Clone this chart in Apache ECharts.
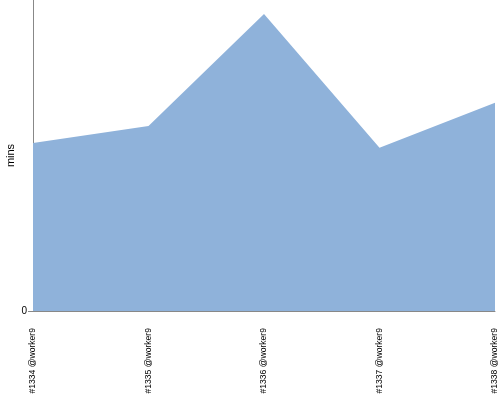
<!DOCTYPE html>
<html><head><meta charset="utf-8">
<script src="https://cdn.jsdelivr.net/npm/echarts@6/dist/echarts.min.js"></script>
<style>html,body{margin:0;padding:0;background:#fff}#c{width:500px;height:400px}</style>
</head><body><div id="c"></div>
<script>
const categories = ['#1334 @worker9', '#1335 @worker9', '#1336 @worker9', '#1337 @worker9', '#1338 @worker9'];
const minsValues = [10.8, 11.9, 19.1, 10.5, 13.4];
const yAxisName = 'mins';
const yTickValues = [0];

const chart = echarts.init(document.getElementById('c'), null, {renderer: 'canvas'});
chart.setOption({
  animation: false,
  grid: {left: 33, right: 5, top: 0, bottom: 89, containLabel: false, outerBoundsMode: 'none'},
  xAxis: {
    type: 'category', data: categories, boundaryGap: false,
    axisLine: {lineStyle: {color: '#888', width: 1}},
    axisTick: {show: false},
    axisLabel: {rotate: 90, margin: 17, fontSize: 8.6, color: '#000', fontFamily: 'Liberation Sans', interval: 0}
  },
  yAxis: {
    type: 'value', min: 0, max: 20, interval: 20,
    name: yAxisName, nameLocation: 'middle', nameGap: 17, nameRotate: 90, nameMoveOverlap: false,
    nameTextStyle: {fontSize: 11, color: '#000', fontFamily: 'Liberation Sans'},
    axisLine: {show: true, lineStyle: {color: '#888', width: 1}},
    axisTick: {show: true, length: 5, lineStyle: {color: '#888'}, customValues: yTickValues},
    splitLine: {show: false},
    axisLabel: {fontSize: 10, color: '#000', fontFamily: 'Liberation Sans', margin: 6,
      customValues: yTickValues, formatter: v => v === 0 ? '0' : ''}
  },
  series: [{
    type: 'line', data: minsValues, symbol: 'none',
    lineStyle: {width: 0},
    areaStyle: {color: '#8fb2da', opacity: 1}
  }]
});
</script></body></html>
